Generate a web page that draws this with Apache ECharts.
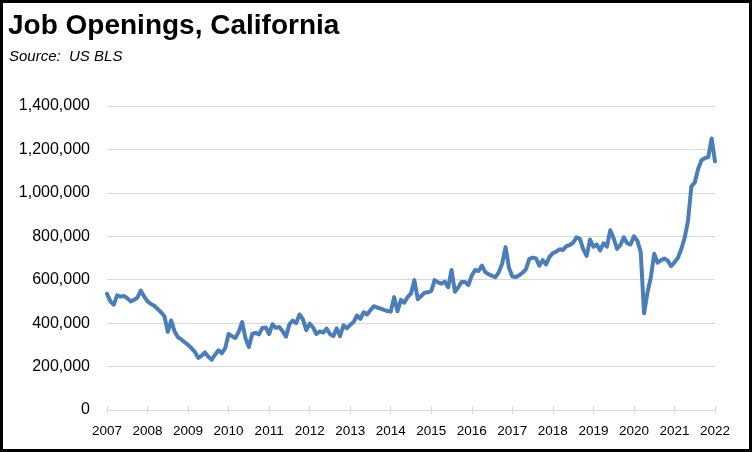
<!DOCTYPE html>
<html>
<head>
<meta charset="utf-8">
<script src="https://cdn.jsdelivr.net/npm/echarts@6/dist/echarts.min.js"></script>
<style>
html,body{margin:0;padding:0;background:#fff;}
#chart{width:752px;height:452px;}
</style>
</head>
<body>
<div id="chart"></div>
<script>
// Tick labels / years
const years = ['2007','2008','2009','2010','2011','2012','2013','2014','2015','2016','2017','2018','2019','2020','2021','2022'];
const yTicks = [0, 200000, 400000, 600000, 800000, 1000000, 1200000, 1400000];

// Monthly job openings (Jan..Dec)
const v2007 = [535000, 500000, 485000, 528000, 522000, 525000, 515000, 500000, 507000, 518000, 550000, 522000];
const v2008 = [500000, 488000, 480000, 465000, 450000, 432000, 360000, 412000, 362000, 335000, 325000, 312000];
const v2009 = [300000, 285000, 268000, 240000, 250000, 265000, 245000, 232000, 255000, 275000, 262000, 285000];
const v2010 = [350000, 340000, 332000, 360000, 405000, 330000, 290000, 350000, 355000, 348000, 378000, 380000];
const v2011 = [350000, 395000, 378000, 382000, 362000, 338000, 395000, 412000, 400000, 440000, 418000, 368000];
const v2012 = [398000, 380000, 350000, 362000, 356000, 375000, 350000, 340000, 376000, 340000, 390000, 376000];
const v2013 = [392000, 405000, 435000, 420000, 450000, 440000, 460000, 478000, 472000, 467000, 461000, 456000];
const v2014 = [453000, 520000, 455000, 507000, 494000, 520000, 537000, 598000, 510000, 525000, 540000, 542000];
const v2015 = [548000, 598000, 588000, 582000, 591000, 565000, 645000, 545000, 565000, 590000, 590000, 575000];
const v2016 = [620000, 645000, 640000, 665000, 635000, 625000, 618000, 612000, 635000, 675000, 750000, 655000];
const v2017 = [615000, 612000, 620000, 632000, 648000, 695000, 702000, 698000, 665000, 690000, 670000, 705000];
const v2018 = [722000, 730000, 740000, 737000, 755000, 760000, 770000, 795000, 788000, 740000, 710000, 785000];
const v2019 = [752000, 762000, 735000, 768000, 752000, 828000, 790000, 742000, 760000, 795000, 768000, 762000];
const v2020 = [800000, 780000, 728000, 445000, 540000, 610000, 720000, 678000, 690000, 698000, 688000, 662000];
const v2021 = [680000, 700000, 740000, 792000, 870000, 1030000, 1048000, 1110000, 1150000, 1160000, 1165000, 1250000];
const v2022 = [1145000];

const yearValues = [v2007, v2008, v2009, v2010, v2011, v2012, v2013, v2014, v2015, v2016, v2017, v2018, v2019, v2020, v2021, v2022];

const categories = [];
const values = [];
yearValues.forEach((arr, yi) => {
  arr.forEach((v, mi) => {
    categories.push(years[yi] + '-' + String(mi + 1).padStart(2, '0'));
    values.push(v);
  });
});

const chart = echarts.init(document.getElementById('chart'), null, {renderer: 'canvas'});
const everyYear = (idx) => idx % 12 === 0;
const gridColor = '#d9d9d9';

chart.setOption({
  animation: false,
  backgroundColor: '#ffffff',
  grid: {left: 107, right: 37, top: 106, bottom: 42, containLabel: false},
  graphic: [
    {type: 'rect', shape: {x: 1.5, y: 1.5, width: 749, height: 449}, style: {fill: 'none', stroke: '#000', lineWidth: 3}, silent: true, z: 100},
    {type: 'text', left: 8, top: 12, style: {text: 'Job Openings, California', font: 'bold 28px "Liberation Sans", Arial, sans-serif', fill: '#000'}},
    {type: 'text', left: 9, top: 49, style: {text: 'Source:  US BLS', font: 'italic 15px "Liberation Sans", Arial, sans-serif', fill: '#000'}}
  ],
  xAxis: [
    {
      type: 'category', data: categories, boundaryGap: false,
      axisLine: {show: true, lineStyle: {color: gridColor, width: 1}},
      axisTick: {show: true, interval: everyYear, length: 4, lineStyle: {color: gridColor}},
      axisLabel: {interval: everyYear, formatter: (v) => v.slice(0, 4), margin: 14, color: '#000', fontSize: 13.5, fontFamily: '"Liberation Sans", Arial, sans-serif'},
      splitLine: {show: false}
    },
    {
      type: 'category', data: categories, boundaryGap: false, position: 'bottom',
      axisLine: {show: false},
      axisTick: {show: true, inside: true, interval: everyYear, length: 4, lineStyle: {color: gridColor}},
      axisLabel: {show: false},
      splitLine: {show: false}
    }
  ],
  yAxis: {
    type: 'value', min: yTicks[0], max: yTicks[yTicks.length - 1], interval: yTicks[1] - yTicks[0],
    axisLine: {show: false}, axisTick: {show: false},
    axisLabel: {margin: 17, color: '#000', fontSize: 16, fontFamily: '"Liberation Sans", Arial, sans-serif',
      formatter: (v) => v.toLocaleString('en-US')},
    splitLine: {show: true, lineStyle: {color: gridColor, width: 1}}
  },
  series: [{
    type: 'line', data: values, xAxisIndex: 0, showSymbol: false, symbol: 'none',
    lineStyle: {color: '#4A7EBB', width: 4, join: 'round', cap: 'round'},
    itemStyle: {color: '#4A7EBB'}
  }]
});
</script>
</body>
</html>
